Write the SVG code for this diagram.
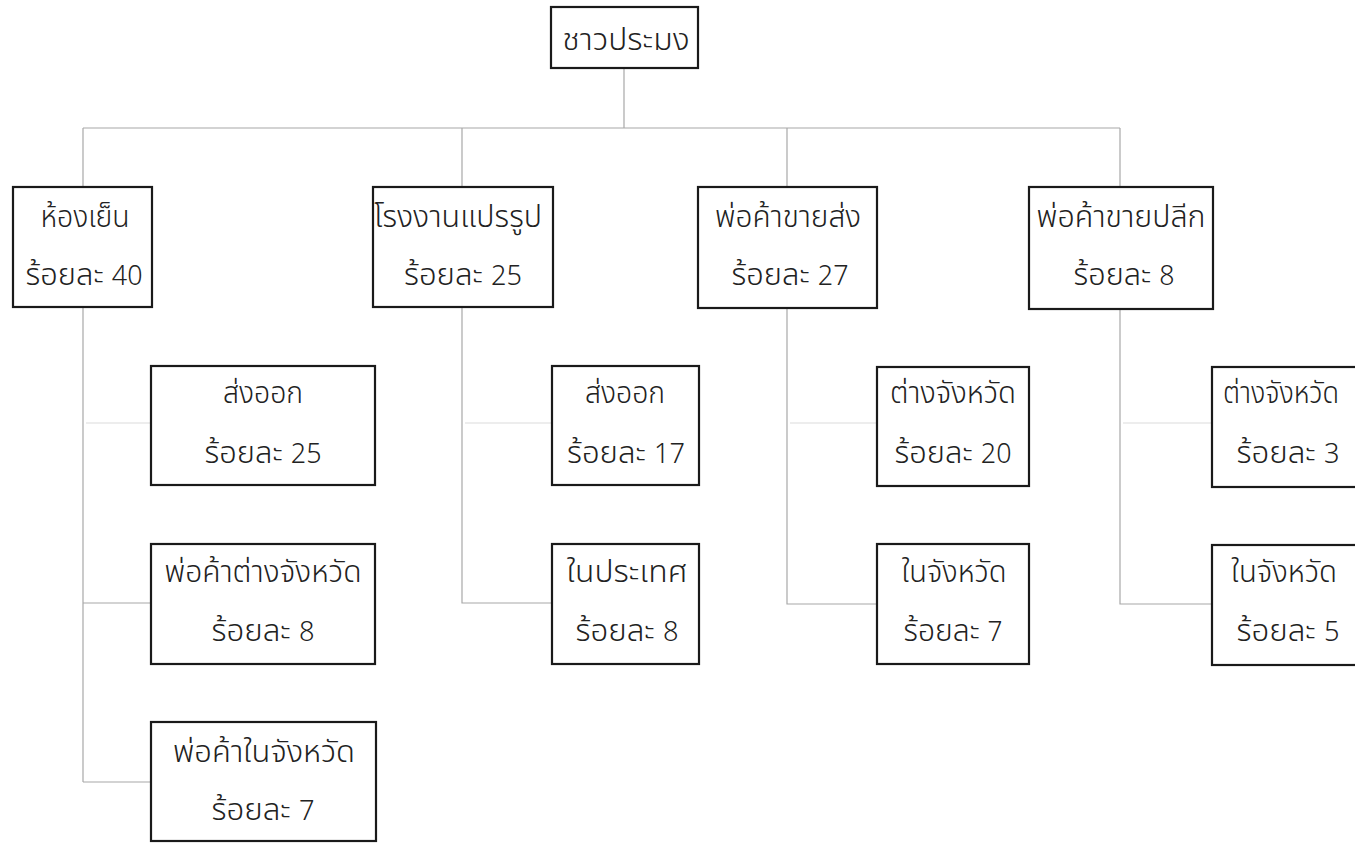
<svg xmlns="http://www.w3.org/2000/svg" width="1355" height="843" viewBox="0 0 1355 843">
<style>
.box{fill:#fff;stroke:#1a1a1a;stroke-width:2.2}
.t{font-family:"Noto Sans Thai","Noto Sans","DejaVu Sans","Liberation Sans",sans-serif;font-size:31px;font-weight:300;fill:#222;text-anchor:middle}
.d{font-size:27px}
.c{fill:none;stroke:#a8a8a8;stroke-width:1.2}
.f{fill:none;stroke:#ededed;stroke-width:2}
</style>
<rect width="1355" height="843" fill="#fff"/>
<g id="connectors">
<path class="c" d="M624,68V128M83,128H1120M83,128V187M462,128V187M787,128V187M1120,128V187"/>
<path class="c" d="M83,307V782M83,603H151M83,782H151"/>
<path class="c" d="M462,307V603H552"/>
<path class="c" d="M787,308V604H877"/>
<path class="c" d="M1120,309V604H1212"/>
<path class="f" d="M86,423H150M465,423H551M790,423H876M1123,423H1211"/>
</g>
<g id="root"><rect class="box" x="551" y="7" width="147" height="61"/><text class="t" x="626" y="50" textLength="127" lengthAdjust="spacingAndGlyphs">ชาวประมง</text></g>
<g id="n1"><rect class="box" x="13" y="187" width="139" height="120"/><text class="t" x="85" y="227" textLength="89" lengthAdjust="spacingAndGlyphs">ห้องเย็น</text><text class="t" x="84" y="285" textLength="117" lengthAdjust="spacingAndGlyphs">ร้อยละ <tspan class="d">40</tspan></text></g>
<g id="n2"><rect class="box" x="373" y="187" width="180" height="120"/><text class="t" x="458" y="227" textLength="168" lengthAdjust="spacingAndGlyphs">โรงงานแปรรูป</text><text class="t" x="463" y="285" textLength="118" lengthAdjust="spacingAndGlyphs">ร้อยละ <tspan class="d">25</tspan></text></g>
<g id="n3"><rect class="box" x="698" y="187" width="179" height="121"/><text class="t" x="788" y="227" textLength="146" lengthAdjust="spacingAndGlyphs">พ่อค้าขายส่ง</text><text class="t" x="790" y="285" textLength="117" lengthAdjust="spacingAndGlyphs">ร้อยละ <tspan class="d">27</tspan></text></g>
<g id="n4"><rect class="box" x="1029" y="187" width="184" height="122"/><text class="t" x="1121" y="227" textLength="169" lengthAdjust="spacingAndGlyphs">พ่อค้าขายปลีก</text><text class="t" x="1124" y="285" textLength="101" lengthAdjust="spacingAndGlyphs">ร้อยละ <tspan class="d">8</tspan></text></g>
<g id="n1a"><rect class="box" x="151" y="366" width="224" height="119"/><text class="t" x="263" y="403" textLength="80" lengthAdjust="spacingAndGlyphs">ส่งออก</text><text class="t" x="263" y="463" textLength="117" lengthAdjust="spacingAndGlyphs">ร้อยละ <tspan class="d">25</tspan></text></g>
<g id="n1b"><rect class="box" x="151" y="544" width="224" height="120"/><text class="t" x="263" y="582" textLength="197" lengthAdjust="spacingAndGlyphs">พ่อค้าต่างจังหวัด</text><text class="t" x="263" y="641" textLength="103" lengthAdjust="spacingAndGlyphs">ร้อยละ <tspan class="d">8</tspan></text></g>
<g id="n1c"><rect class="box" x="151" y="722" width="225" height="119"/><text class="t" x="264" y="762" textLength="182" lengthAdjust="spacingAndGlyphs">พ่อค้าในจังหวัด</text><text class="t" x="263" y="820" textLength="103" lengthAdjust="spacingAndGlyphs">ร้อยละ <tspan class="d">7</tspan></text></g>
<g id="n2a"><rect class="box" x="552" y="366" width="147" height="119"/><text class="t" x="625" y="403" textLength="80" lengthAdjust="spacingAndGlyphs">ส่งออก</text><text class="t" x="626" y="463" textLength="118" lengthAdjust="spacingAndGlyphs">ร้อยละ <tspan class="d">17</tspan></text></g>
<g id="n2b"><rect class="box" x="552" y="544" width="147" height="120"/><text class="t" x="627" y="582" textLength="121" lengthAdjust="spacingAndGlyphs">ในประเทศ</text><text class="t" x="627" y="641" textLength="103" lengthAdjust="spacingAndGlyphs">ร้อยละ <tspan class="d">8</tspan></text></g>
<g id="n3a"><rect class="box" x="877" y="367" width="152" height="119"/><text class="t" x="953" y="403" textLength="126" lengthAdjust="spacingAndGlyphs">ต่างจังหวัด</text><text class="t" x="953" y="463" textLength="117" lengthAdjust="spacingAndGlyphs">ร้อยละ <tspan class="d">20</tspan></text></g>
<g id="n3b"><rect class="box" x="877" y="544" width="152" height="120"/><text class="t" x="954" y="582" textLength="105" lengthAdjust="spacingAndGlyphs">ในจังหวัด</text><text class="t" x="953" y="641" textLength="99" lengthAdjust="spacingAndGlyphs">ร้อยละ <tspan class="d">7</tspan></text></g>
<g id="n4a"><rect class="box" x="1212" y="367" width="160" height="120"/><text class="t" x="1281" y="403" textLength="116" lengthAdjust="spacingAndGlyphs">ต่างจังหวัด</text><text class="t" x="1288" y="463" textLength="103" lengthAdjust="spacingAndGlyphs">ร้อยละ <tspan class="d">3</tspan></text></g>
<g id="n4b"><rect class="box" x="1212" y="545" width="160" height="120"/><text class="t" x="1284" y="582" textLength="106" lengthAdjust="spacingAndGlyphs">ในจังหวัด</text><text class="t" x="1288" y="641" textLength="103" lengthAdjust="spacingAndGlyphs">ร้อยละ <tspan class="d">5</tspan></text></g>
</svg>
